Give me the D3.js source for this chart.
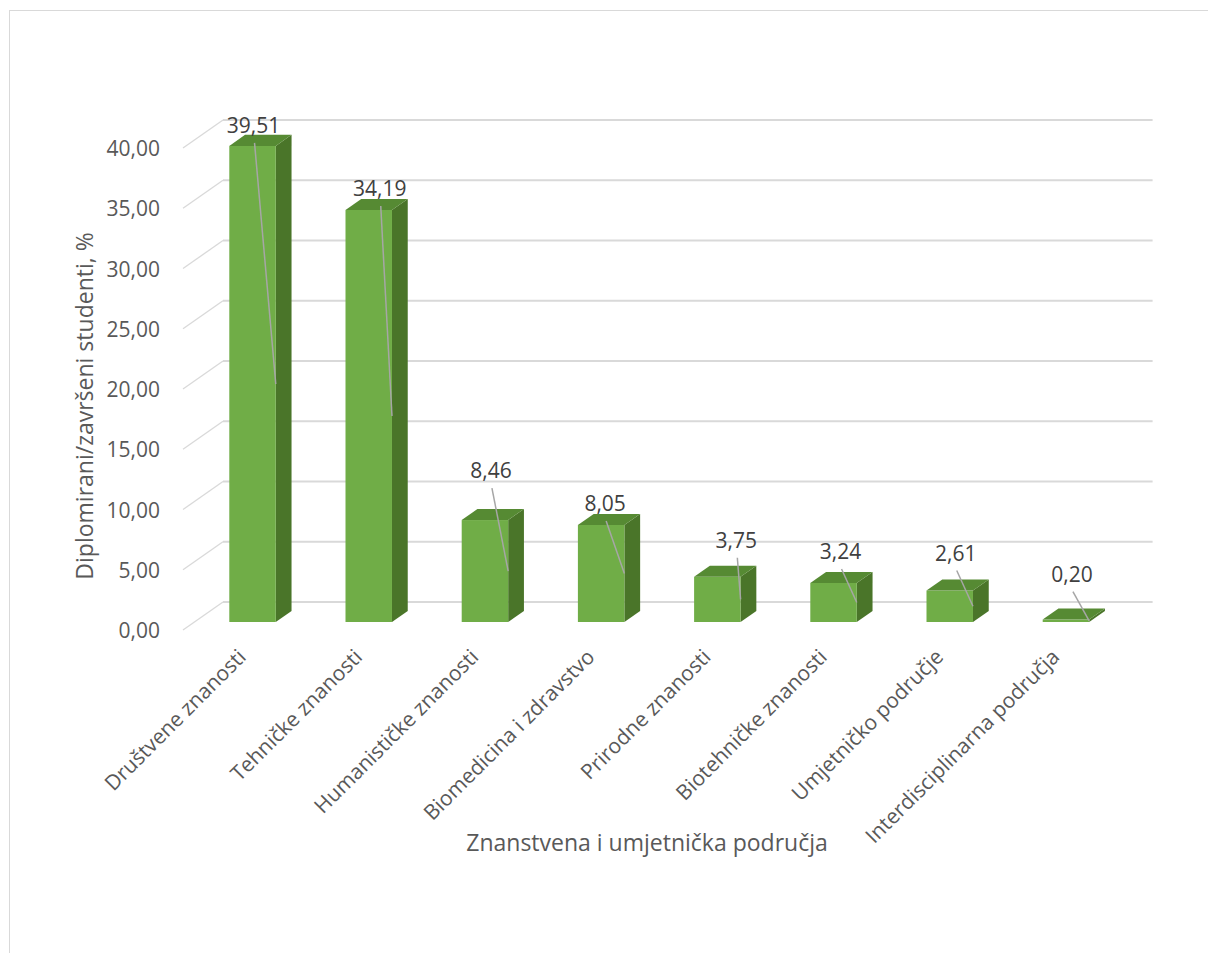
<!DOCTYPE html>
<html>
<head>
<meta charset="utf-8">
<script src="https://cdn.jsdelivr.net/npm/d3@7"></script>
<style>
  body { margin: 0; background: #fff; }
  text { font-family: "Open Sans", sans-serif; }
</style>
</head>
<body>
<svg id="chart" width="1208" height="953"></svg>
<script>
// data
var categories = ["Društvene znanosti", "Tehničke znanosti", "Humanističke znanosti",
  "Biomedicina i zdravstvo", "Prirodne znanosti", "Biotehničke znanosti",
  "Umjetničko područje", "Interdisciplinarna područja"];
var values = [39.51, 34.19, 8.46, 8.05, 3.75, 3.24, 2.61, 0.20];
var yTicks = [0, 5, 10, 15, 20, 25, 30, 35, 40];

// manual label placement (offset of label centre from bar top centre, as Excel had them)
var labelDx = [1, 11, 6, 4, 19, 7, 6, 6];
var labelDy = [-21, -22, -50, -22, -37, -32, -38, -46];

var svg = d3.select("#chart");

svg.append("rect")
  .attr("x", 9.5).attr("y", 10.5)
  .attr("width", 1400).attr("height", 1200)
  .attr("fill", "none").attr("stroke", "#d9d9d9").attr("stroke-width", 1);

// 3d-ish layout
var floorX = 183, floorY = 630;
var depth = { x: 40, y: -28 };          // full floor depth
var barFront = 0.286, barBack = 0.68;   // bar depth inside the floor

var x = d3.scaleBand()
  .domain(categories)
  .range([floorX, floorX + 929.6])
  .paddingInner(0.6)
  .paddingOuter(0.3);

var y = d3.scaleLinear()
  .domain([0, 40])
  .range([floorY, floorY - 482]);

// gridlines on side + back wall
var grid = svg.append("g");
yTicks.forEach(function (t) {
  grid.append("line")
    .attr("x1", floorX).attr("y1", y(t))
    .attr("x2", floorX + depth.x).attr("y2", y(t) + depth.y)
    .attr("stroke", "#d9d9d9").attr("stroke-width", 1.3);
  grid.append("line")
    .attr("x1", floorX + depth.x).attr("y1", y(t) + depth.y)
    .attr("x2", floorX + depth.x + 929.6).attr("y2", y(t) + depth.y)
    .attr("stroke", "#d9d9d9").attr("stroke-width", 2);
});

// y tick labels
var fmt = function (v) { return d3.format(".2f")(v).replace(".", ","); };
svg.append("g").selectAll("text")
  .data(yTicks)
  .enter().append("text")
    .attr("x", 160)
    .attr("y", function (d) { return y(d); })
    .attr("text-anchor", "end")
    .attr("dominant-baseline", "central")
    .style("font-size", "21px")
    .style("fill", "#595959")
    .text(fmt);

// bars
var fx = depth.x * barFront, fy = depth.y * barFront;
var bx = depth.x * barBack, by = depth.y * barBack;
var sx = bx - fx, sy = by - fy;

var bars = svg.append("g").selectAll("g")
  .data(values)
  .enter().append("g");

bars.each(function (v, i) {
  var g = d3.select(this);
  var x0 = x(categories[i]) + fx, w = x.bandwidth();
  var yb = floorY + fy, yt = y(v) + fy;
  // side
  g.append("path")
    .attr("d", "M" + (x0 + w) + "," + yb + "L" + (x0 + w + sx) + "," + (yb + sy) +
      "L" + (x0 + w + sx) + "," + (yt + sy) + "L" + (x0 + w) + "," + yt + "Z")
    .attr("fill", "#4a7529");
  // front
  g.append("rect")
    .attr("x", x0).attr("y", yt)
    .attr("width", w).attr("height", yb - yt)
    .attr("fill", "#70ad47");
  // top
  g.append("path")
    .attr("d", "M" + x0 + "," + yt + "L" + (x0 + w) + "," + yt + "L" + (x0 + w + sx) + "," + (yt + sy) +
      "L" + (x0 + sx) + "," + (yt + sy) + "Z")
    .attr("fill", "#568a33");
});

// value labels with leader lines
bars.each(function (v, i) {
  var g = d3.select(this);
  var x0 = x(categories[i]) + fx, w = x.bandwidth();
  var yb = floorY + fy, yt = y(v) + fy;
  var lx = x0 + w / 2 + labelDx[i], ly = yt + labelDy[i];
  g.append("line")
    .attr("x1", lx + 1).attr("y1", ly + 18)
    .attr("x2", x0 + w).attr("y2", (yb + yt) / 2)
    .attr("stroke", "#a6a6a6").attr("stroke-width", 1.5);
  g.append("text")
    .attr("x", lx).attr("y", ly)
    .attr("text-anchor", "middle")
    .attr("dominant-baseline", "central")
    .style("font-size", "21px")
    .style("fill", "#404040")
    .text(fmt(v));
});

// category labels
svg.append("g").selectAll("text")
  .data(categories)
  .enter().append("text")
    .attr("transform", function (d) {
      return "translate(" + (x(d) + x.bandwidth() / 2 + 1) + ",653) rotate(-45)";
    })
    .attr("text-anchor", "end")
    .attr("dy", "0.35em")
    .style("font-size", "21px")
    .style("fill", "#595959")
    .text(function (d) { return d; });

// axis titles
svg.append("text")
  .attr("x", 647).attr("y", 842)
  .attr("text-anchor", "middle")
  .attr("dominant-baseline", "central")
  .style("font-size", "23px")
  .style("fill", "#595959")
  .text("Znanstvena i umjetnička područja");

svg.append("text")
  .attr("transform", "translate(84,406) rotate(-90)")
  .attr("text-anchor", "middle")
  .attr("dominant-baseline", "central")
  .style("font-size", "23px")
  .style("fill", "#595959")
  .text("Diplomirani/završeni studenti, %");
</script>
</body>
</html>
